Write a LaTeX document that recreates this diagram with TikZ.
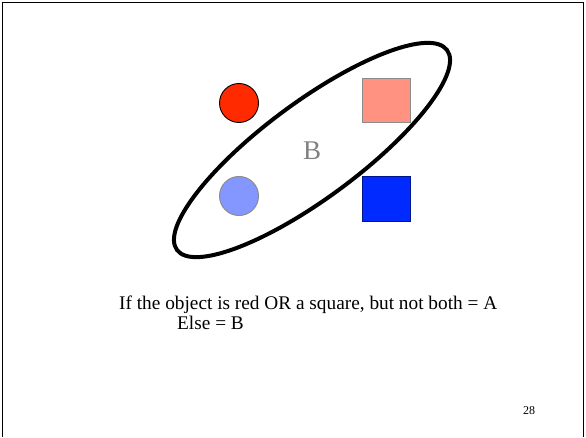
\documentclass[tikz,border=0pt]{standalone}
\usepackage{fontspec}
\setmainfont{Liberation Serif}
\definecolor{redfill}{RGB}{255,42,0}
\definecolor{pinkfill}{RGB}{255,146,128}
\definecolor{lbluefill}{RGB}{132,150,255}
\definecolor{bluefill}{RGB}{0,42,255}
\definecolor{blueline}{RGB}{0,20,140}
\begin{document}
\begin{tikzpicture}[x=1pt,y=1pt,
  txt/.style={inner sep=0pt,anchor=base west,font=\fontsize{19.3}{22}\selectfont},
  grayline/.style={draw=black!45,line width=1pt}]
\useasboundingbox (0,0) rectangle (586,437);
\draw[line width=1.3pt] (2.3,0) -- (2.3,434.7) -- (583.6,434.7) -- (583.6,0);
% objects
\node[circle,minimum size=39pt,inner sep=0pt,fill=redfill,draw=black,line width=0.9pt] (rc) at (239,334) {};
\node[circle,minimum size=39pt,inner sep=0pt,fill=lbluefill,grayline] (bc) at (239,241) {};
\draw[grayline,fill=pinkfill] (362,314) rectangle (410,358);
\coordinate (rs) at (386,336);
\draw[draw=blueline,line width=1pt,fill=bluefill] (362,216) rectangle (410,260);
\coordinate (bs) at (386,238);
% ellipse
\coordinate (ec) at (312,287);
\draw[line width=4pt,rotate around={36.5:(ec)}] (ec) ellipse [x radius=168, y radius=48];
\node[inner sep=0pt,text=black!50,font=\fontsize{27}{30}\selectfont] (blab) at (312,286) {B};
% text
\node[txt] (l1) at (119,128) {If the object is red OR a square, but not both = A};
\node[txt] (l2) at (177,107.5) {Else = B};
\node[inner sep=0pt,anchor=base west,font=\fontsize{12}{13}\selectfont] (pg) at (523,23) {28};
\end{tikzpicture}
\end{document}
